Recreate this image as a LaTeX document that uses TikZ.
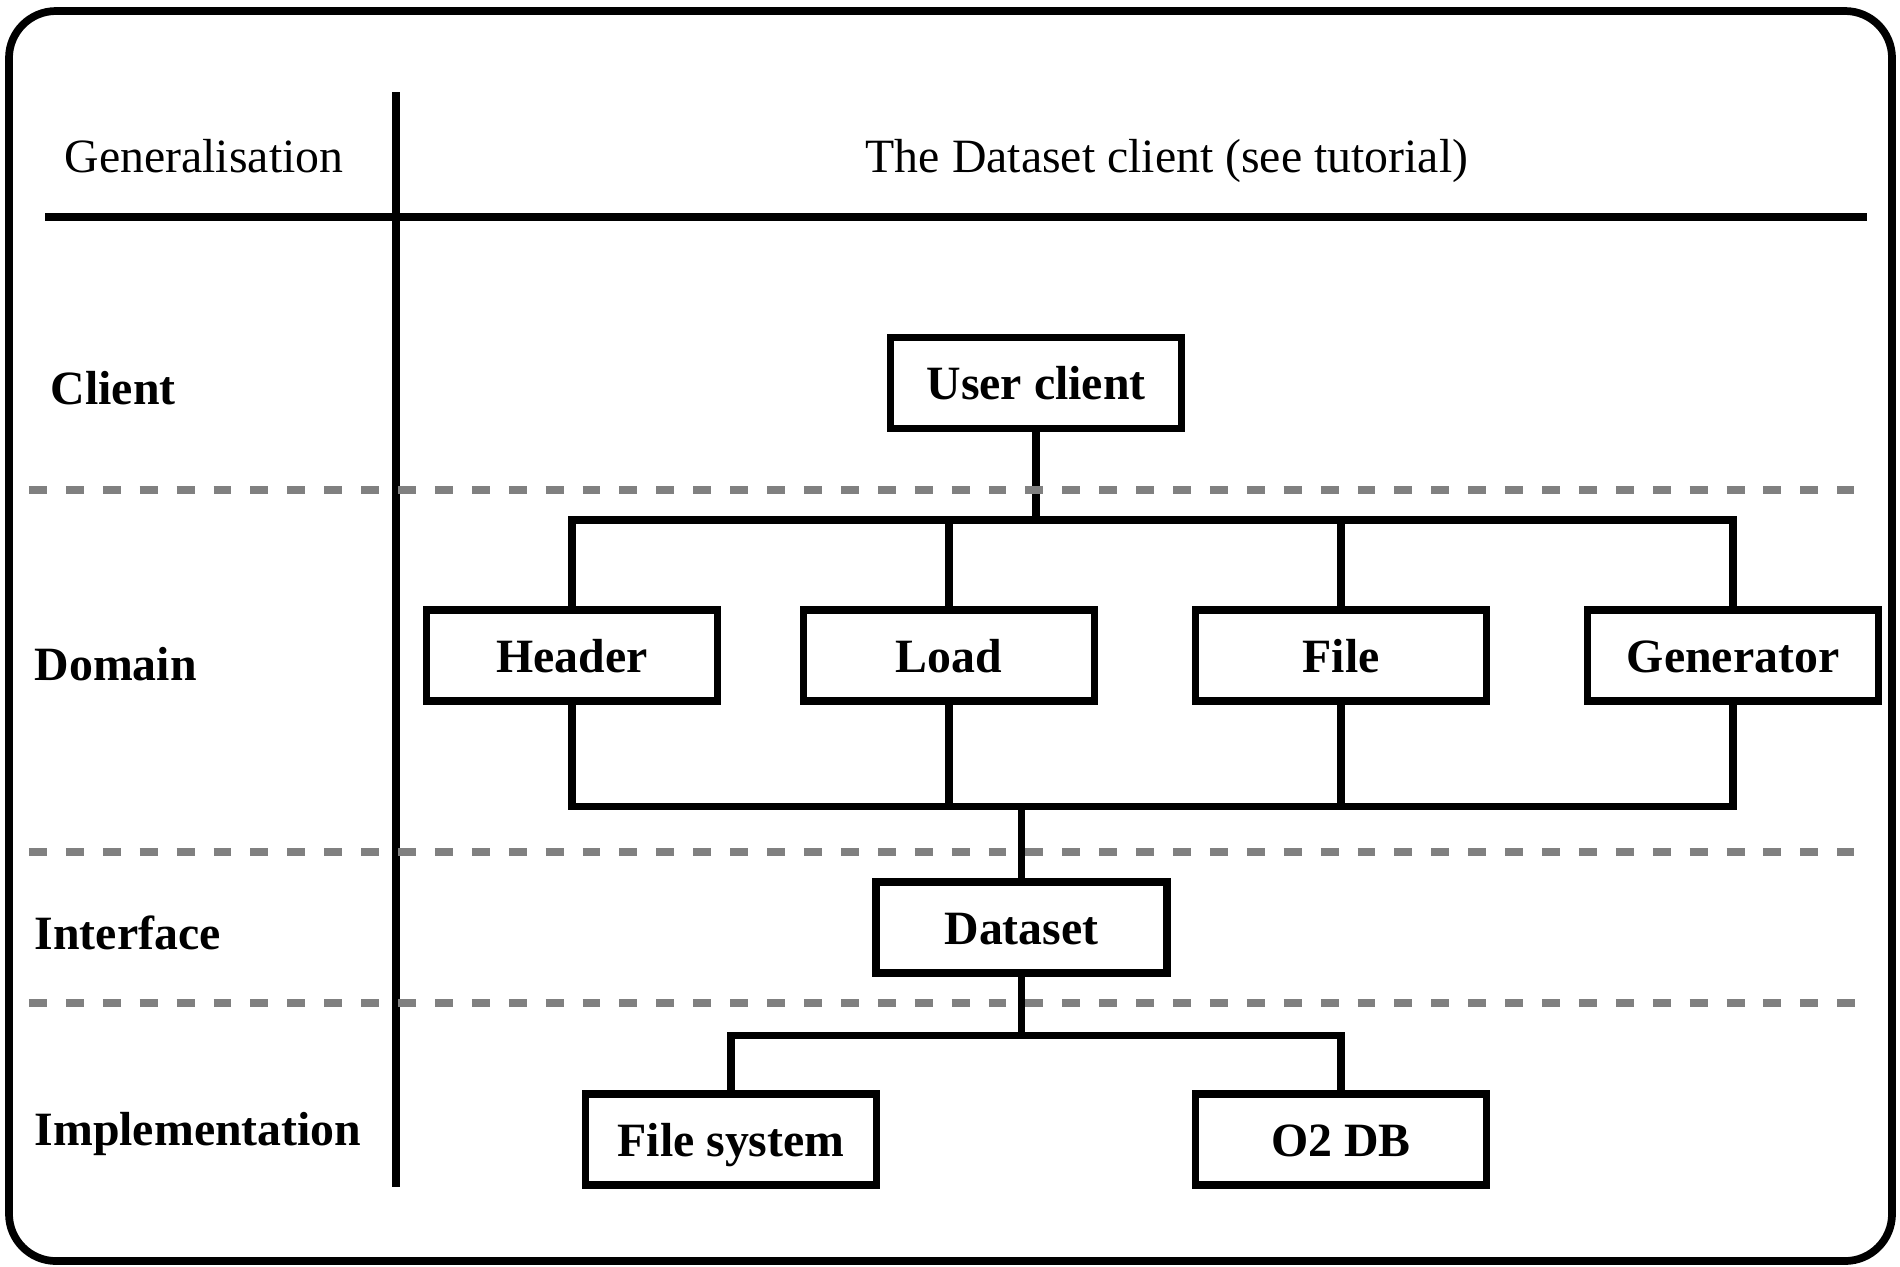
\documentclass[tikz,border=0pt]{standalone}
\usepackage{fontspec}
\setmainfont{Liberation Serif}
\usepackage{xcolor}
\usetikzlibrary{positioning}
\definecolor{sepgray}{HTML}{808080}

\begin{document}
\begin{tikzpicture}[
  every node/.style = {font=\fontsize{13.6}{16}\selectfont},
  block/.style      = {rectangle, draw=black, line width=2.2pt,
                       minimum width=2.91cm, minimum height=0.91cm,
                       inner sep=0pt, text height=0.33cm, text depth=0pt,
                       font=\fontsize{13.6}{16}\selectfont\bfseries},
  layerlabel/.style = {anchor=base west, inner sep=0pt,
                       font=\fontsize{13.6}{16}\selectfont\bfseries},
  headtext/.style   = {anchor=base},
  wire/.style       = {line width=2.1pt},
  rule/.style       = {line width=2.2pt},
  layersep/.style   = {draw=sepgray, line width=2.3pt,
                       dash pattern=on 5.1pt off 5.4pt},
  outerframe/.style = {line width=2.2pt, rounded corners=0.47cm}
]
\useasboundingbox (0,0) rectangle (19,-12.66);

% --- frame and table rules ---
\draw[outerframe] (0.09,-0.11) rectangle (18.92,-12.61);
\draw[rule] (3.96,-0.92) -- (3.96,-11.87);
\draw[rule] (0.45,-2.17) -- (18.67,-2.17);

% --- header ---
\node[headtext] (gen)   at (2.04,-1.72)  {Generalisation};
\node[headtext] (title) at (11.67,-1.72) {The Dataset client (see tutorial)};

% --- layer names ---
\node[layerlabel] (lclient) at (0.50,-4.04)  {Client};
\node[layerlabel] (ldomain) at (0.34,-6.80)  {Domain};
\node[layerlabel] (linter)  at (0.34,-9.49)  {Interface};
\node[layerlabel] (limpl)   at (0.34,-11.45) {Implementation};

% --- boxes ---
\node[block] (user)      at (10.36,-3.83)   {User client};
\node[block] (header)    at (5.72,-6.555)   {Header};
\node[block] (load)      at (9.49,-6.555)   {Load};
\node[block] (file)      at (13.41,-6.555)  {File};
\node[block] (generator) at (17.33,-6.555)  {Generator};
\node[block] (dataset)   at (10.215,-9.275) {Dataset};
\node[block] (fsys)      at (7.31,-11.395)  {File system};
\node[block] (o2db)      at (13.41,-11.395) {O2 DB};

% bus points
\coordinate[below=0.875cm of user.south]    (topbus);
\coordinate[below=1.015cm of header.south]  (lowbus);
\coordinate[below=0.585cm of dataset.south] (implbus);

% --- connectors ---
\draw[wire] (user.south) -- (topbus);
\draw[wire] (header.north) |- (topbus) -| (generator.north);
\draw[wire] (load.north) -- (load.north |- topbus);
\draw[wire] (file.north) -- (file.north |- topbus);

\draw[wire] (header.south) |- (lowbus -| generator.south) -- (generator.south);
\draw[wire] (load.south) -- (load.south |- lowbus);
\draw[wire] (file.south) -- (file.south |- lowbus);
\draw[wire] (dataset.north) -- (dataset.north |- lowbus);

\draw[wire] (dataset.south) -- (implbus);
\draw[wire] (fsys.north) |- (implbus) -| (o2db.north);

% --- layer separators ---
\draw[layersep] (0.29,-4.90)  -- (18.54,-4.90);
\draw[layersep] (0.29,-8.52)  -- (18.54,-8.52);
\draw[layersep] (0.29,-10.03) -- (18.67,-10.03);

\end{tikzpicture}
\end{document}
